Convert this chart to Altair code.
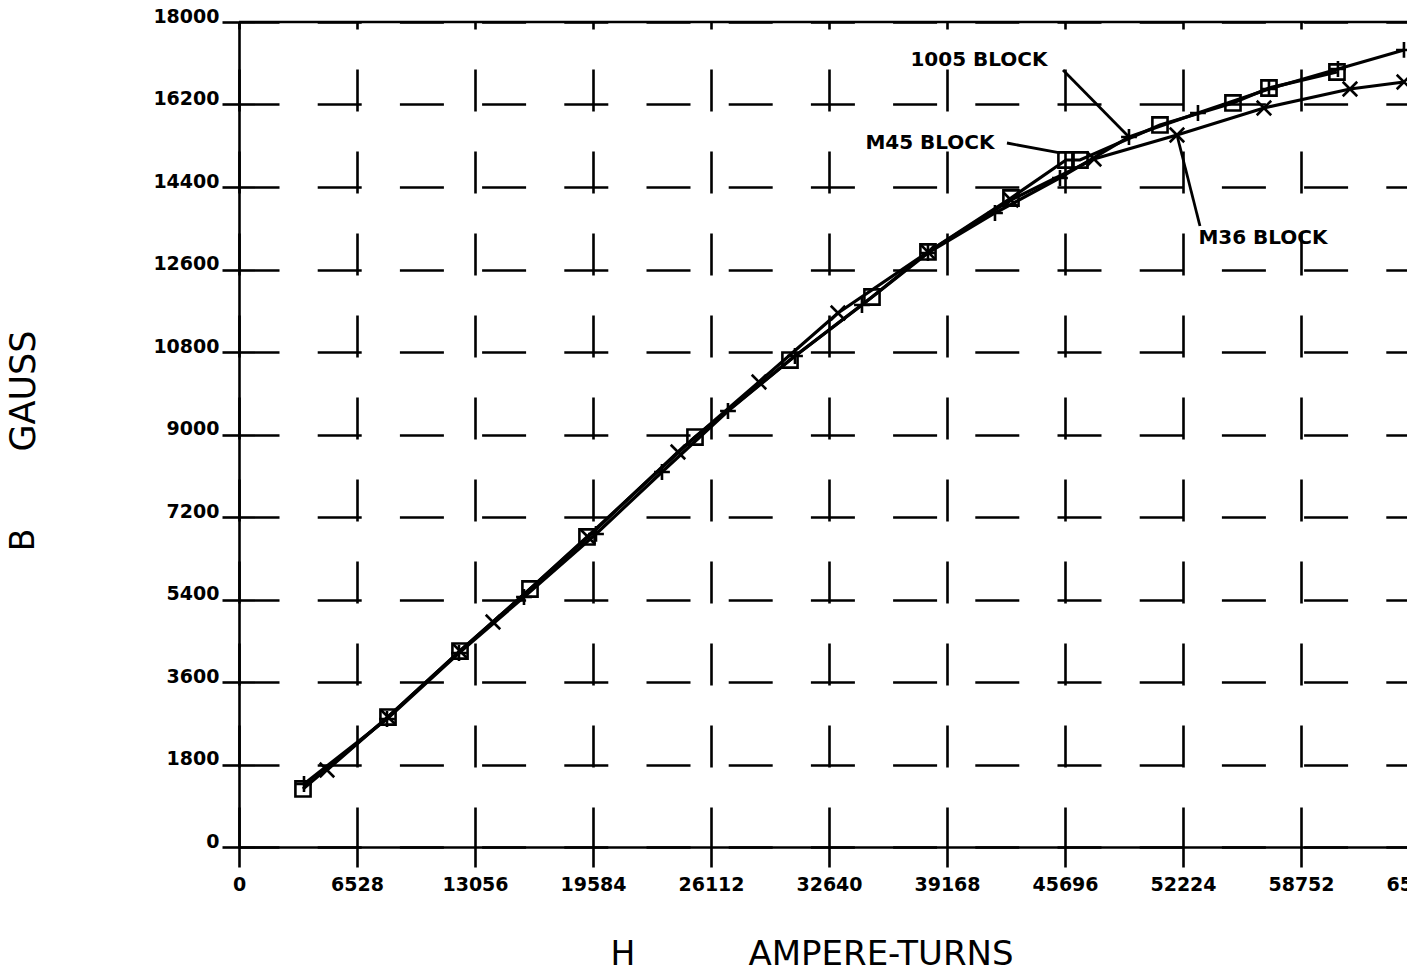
import altair as alt
import pandas as pd

# Axis tick values
H_TICKS = [0, 6528, 13056, 19584, 26112, 32640, 39168, 45696, 52224, 58752, 65280]
B_TICKS = [0, 1800, 3600, 5400, 7200, 9000, 10800, 12600, 14400, 16200, 18000]

# Magnetization curves: H (ampere-turns) vs B (gauss)
H_1005 = [3596, 8187, 12170, 15766, 19749, 23400, 27051, 30758, 34464, 38115,
          41822, 45418, 49235, 53052, 56980, 60797, 64448]
B_1005 = [1375, 2793, 4233, 5455, 6830, 8182, 9513, 10713, 11826, 12960,
          13833, 14597, 15491, 16015, 16538, 16975, 17390]

H_M45 = [3540, 8243, 12226, 16098, 19251, 25226, 30481, 35018, 38115, 42707,
         45750, 46524, 50950, 54988, 56980, 60741]
B_M45 = [1266, 2836, 4276, 5629, 6764, 8945, 10625, 12000, 12982, 14160,
         14989, 14989, 15753, 16233, 16560, 16909]

H_M36 = [4868, 8243, 12226, 14051, 19307, 24285, 28766, 33137, 38115, 42707,
         47299, 51890, 56703, 61461, 64448]
B_M36 = [1680, 2836, 4276, 4909, 6764, 8618, 10146, 11651, 12982, 14117,
         15011, 15535, 16124, 16538, 16691]

SERIES = ["1005 BLOCK", "M45 BLOCK", "M36 BLOCK"]

# Curve labels with leader lines
NOTE_TEXT = ["1005 BLOCK", "M45 BLOCK", "M36 BLOCK"]
NOTE_H = [40937, 38226, 56648]
NOTE_B = [17171, 15360, 13287]
LEADER_H0 = [45584, 42486, 53163]
LEADER_B0 = [16953, 15360, 13549]
LEADER_H1 = [49235, 45418, 51890]
LEADER_B1 = [15491, 15142, 15535]

rows = []
for name, hs, bs in zip(SERIES, [H_1005, H_M45, H_M36], [B_1005, B_M45, B_M36]):
    for i, (h, b) in enumerate(zip(hs, bs)):
        rows.append({"series": name, "idx": i, "H": h, "B": b})
curves = pd.DataFrame(rows)

notes = pd.DataFrame({"label": NOTE_TEXT, "H": NOTE_H, "B": NOTE_B})
leaders = pd.DataFrame({"H": LEADER_H0, "B": LEADER_B0,
                        "H2": LEADER_H1, "B2": LEADER_B1})

LABEL_FONT = "DejaVu Sans"
TITLE_FONT = "DejaVu Sans"

xscale = alt.Scale(domain=[0, 65280], range=[0, 1180], nice=False, zero=False)
yscale = alt.Scale(domain=[0, 18000], nice=False, zero=False)

xaxis = alt.Axis(
    values=H_TICKS, format="d", title=None,
    grid=True, gridColor="black", gridWidth=2.6, gridOpacity=1,
    gridDash=[42, 40], gridDashOffset=35,
    domainColor="black", domainWidth=2.6,
    tickColor="black", tickWidth=2.6, tickSize=20,
    labelFont=LABEL_FONT, labelFontSize=19, labelFontWeight="bold",
    labelColor="black", labelPadding=8, labelFlush=False,
    labelOverlap=False, labelBound=False,
)
yaxis = alt.Axis(
    values=B_TICKS, format="d", title=None,
    grid=True, gridColor="black", gridWidth=2.6, gridOpacity=1,
    gridDash=[44, 38.2], gridDashOffset=4,
    domainColor="black", domainWidth=2.6,
    tickColor="black", tickWidth=2.6, tickSize=17,
    labelFont=LABEL_FONT, labelFontSize=19, labelFontWeight="bold",
    labelColor="black", labelPadding=3, labelBaseline="alphabetic",
    labelOverlap=False, labelBound=False,
)


def X(field):
    return alt.X(field, type="quantitative", scale=xscale, axis=xaxis)


def Y(field):
    return alt.Y(field, type="quantitative", scale=yscale, axis=yaxis)


lines = alt.Chart(curves).mark_line(color="black", strokeWidth=3.2).encode(
    x=X("H"), y=Y("B"), detail="series:N", order="idx:Q"
)

PLUS = "M-1,0L1,0M0,-1L0,1"
CROSS = "M-1,-1L1,1M-1,1L1,-1"

points = alt.Chart(curves).mark_point(
    filled=False, color="black", strokeWidth=2.6, opacity=1
).encode(
    x=X("H"), y=Y("B"),
    shape=alt.Shape("series:N", scale=alt.Scale(domain=SERIES, range=[PLUS, "square", CROSS]), legend=None),
    size=alt.Size("series:N", scale=alt.Scale(domain=SERIES, range=[250, 210, 330]), legend=None),
)

top_border = alt.Chart(pd.DataFrame({"B": [18000]})).mark_rule(
    color="black", strokeWidth=2.6
).encode(y=Y("B"))

leader_lines = alt.Chart(leaders).mark_rule(color="black", strokeWidth=2.8).encode(
    x=X("H"), y=Y("B"), x2="H2:Q", y2="B2:Q"
)

note_text = alt.Chart(notes).mark_text(
    font=LABEL_FONT, fontSize=20, fontWeight="bold", color="black",
    align="center", baseline="middle"
).encode(x=X("H"), y=Y("B"), text="label:N")

x_title_h = alt.Chart(pd.DataFrame({"t": ["H"]})).mark_text(
    font=TITLE_FONT, fontSize=33, color="black", align="center", baseline="alphabetic"
).encode(text="t:N", x=alt.value(384), y=alt.value(943))
x_title_rest = alt.Chart(pd.DataFrame({"t": ["AMPERE-TURNS"]})).mark_text(
    font=TITLE_FONT, fontSize=34, color="black", align="center", baseline="alphabetic"
).encode(text="t:N", x=alt.value(642), y=alt.value(943))
y_title_b = alt.Chart(pd.DataFrame({"t": ["B"]})).mark_text(
    font=TITLE_FONT, fontSize=33, color="black", align="center", baseline="middle", angle=270
).encode(text="t:N", x=alt.value(-215), y=alt.value(518))
y_title_rest = alt.Chart(pd.DataFrame({"t": ["GAUSS"]})).mark_text(
    font=TITLE_FONT, fontSize=35, color="black", align="center", baseline="middle", angle=270
).encode(text="t:N", x=alt.value(-215), y=alt.value(369))

chart = alt.layer(
    lines, points, top_border, leader_lines, note_text,
    x_title_h, x_title_rest, y_title_b, y_title_rest
).properties(
    width=1168, height=825,
    autosize=alt.AutoSizeParams(type="none"),
    padding={"left": 239, "top": 22, "right": 0, "bottom": 127},
    background="white",
).configure_view(stroke=None)

chart.save("out.html", embed_options={"renderer": "svg", "actions": False})
